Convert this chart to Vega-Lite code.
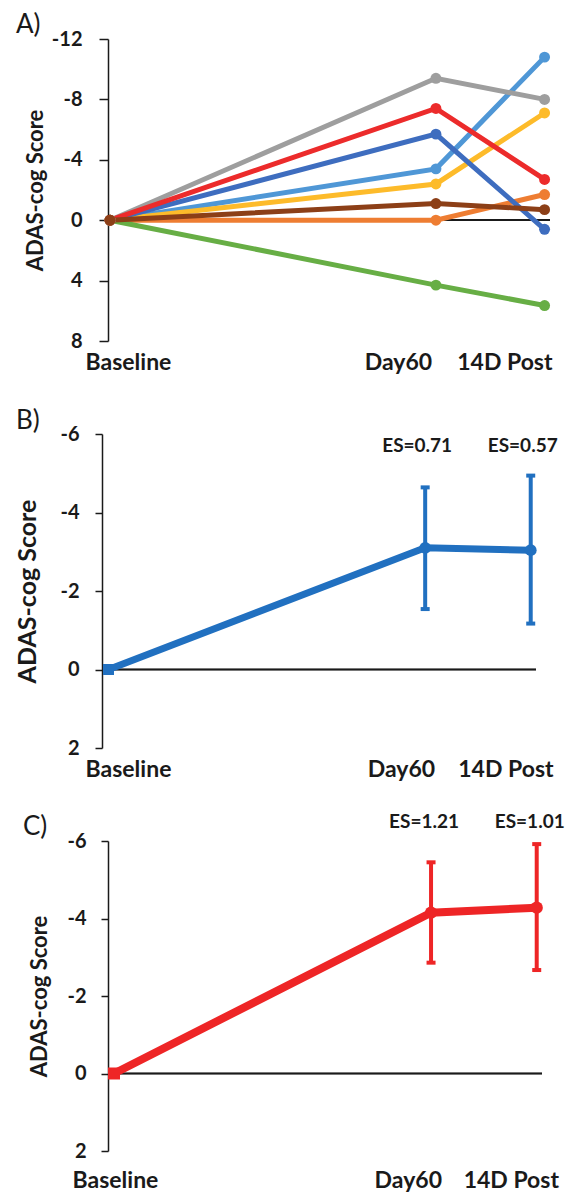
{
  "$schema": "https://vega.github.io/schema/vega-lite/v6.json",
  "background": "white",
  "padding": {"left": 15, "top": 12, "right": 5, "bottom": 5},
  "autosize": {"type": "pad"},
  "bounds": "flush",
  "spacing": 93,
  "config": {
    "view": {"stroke": null},
    "font": "Lato",
    "axis": {"grid": false, "domainColor": "#1a1a1a", "domainWidth": 1.5, "tickColor": "#1a1a1a", "tickWidth": 1.5, "labelFont": "Lato", "labelFontWeight": "bold", "labelColor": "#1a1a1a", "titleFont": "Lato", "titleFontWeight": "bold", "titleColor": "#1a1a1a", "labelFlush": false, "labelOverlap": false},
    "title": {"font": "Lato", "fontWeight": "normal", "fontSize": 26, "color": "#1a1a1a", "anchor": "start", "frame": "group"}
  },
  "datasets": {
    "individual": [
      {"id": "P1", "time": "Baseline", "day": 0, "score": 0},
      {"id": "P1", "time": "Day60", "day": 60, "score": -3.4},
      {"id": "P1", "time": "14D Post", "day": 80, "score": -10.8},
      {"id": "P2", "time": "Baseline", "day": 0, "score": 0},
      {"id": "P2", "time": "Day60", "day": 60, "score": 0},
      {"id": "P2", "time": "14D Post", "day": 80, "score": -1.7},
      {"id": "P3", "time": "Baseline", "day": 0, "score": 0},
      {"id": "P3", "time": "Day60", "day": 60, "score": -9.4},
      {"id": "P3", "time": "14D Post", "day": 80, "score": -8.0},
      {"id": "P4", "time": "Baseline", "day": 0, "score": 0},
      {"id": "P4", "time": "Day60", "day": 60, "score": -2.4},
      {"id": "P4", "time": "14D Post", "day": 80, "score": -7.1},
      {"id": "P5", "time": "Baseline", "day": 0, "score": 0},
      {"id": "P5", "time": "Day60", "day": 60, "score": -5.7},
      {"id": "P5", "time": "14D Post", "day": 80, "score": 0.6},
      {"id": "P6", "time": "Baseline", "day": 0, "score": 0},
      {"id": "P6", "time": "Day60", "day": 60, "score": 4.3},
      {"id": "P6", "time": "14D Post", "day": 80, "score": 5.65},
      {"id": "P7", "time": "Baseline", "day": 0, "score": 0},
      {"id": "P7", "time": "Day60", "day": 60, "score": -7.4},
      {"id": "P7", "time": "14D Post", "day": 80, "score": -2.7},
      {"id": "P8", "time": "Baseline", "day": 0, "score": 0},
      {"id": "P8", "time": "Day60", "day": 60, "score": -1.1},
      {"id": "P8", "time": "14D Post", "day": 80, "score": -0.7}
    ],
    "groupB": [
      {"time": "Baseline", "day": 0, "mean": 0, "lo": null, "hi": null, "es": null},
      {"time": "Day60", "day": 60, "mean": -3.1, "lo": -1.54, "hi": -4.64, "es": "ES=0.71"},
      {"time": "14D Post", "day": 80, "mean": -3.04, "lo": -1.17, "hi": -4.94, "es": "ES=0.57"}
    ],
    "groupC": [
      {"time": "Baseline", "day": 0, "mean": 0, "lo": null, "hi": null, "es": null},
      {"time": "Day60", "day": 60, "mean": -4.15, "lo": -2.86, "hi": -5.45, "es": "ES=1.21"},
      {"time": "14D Post", "day": 80, "mean": -4.28, "lo": -2.67, "hi": -5.92, "es": "ES=1.01"}
    ]
  },
  "vconcat": [
    {
      "width": 442, "height": 302,
      "title": {"text": "A)", "dx": -92, "dy": 13},
      "data": {"name": "individual"},
      "layer": [
        {"mark": {"type": "rule", "color": "#1a1a1a", "strokeWidth": 1.5},
         "encoding": {"y": {"datum": 0, "type": "quantitative", "scale": {"domain": [-12, 8], "reverse": true, "nice": false, "zero": false},
           "axis": {"title": "ADAS-cog Score", "values": [-12, -8, -4, 0, 4, 8], "labelExpr": "'' + datum.value", "tickSize": 9, "labelPadding": 17, "labelFontSize": 20, "titleFontSize": 22, "titlePadding": 4}}}},
        {"mark": {"type": "line", "strokeWidth": 5},
         "encoding": {
           "x": {"field": "day", "type": "quantitative", "scale": {"domain": [-0.37, 81], "nice": false, "zero": false},
             "axis": {"title": null, "values": [3.31, 53.0, 72.6], "labelExpr": "datum.value < 20 ? 'Baseline' : (datum.value < 65 ? 'Day60' : '14D Post')", "ticks": false, "domain": false, "labelPadding": 10, "labelFontSize": 23}},
           "y": {"field": "score", "type": "quantitative",
             "axis": {"title": "ADAS-cog Score", "values": [-12, -8, -4, 0, 4, 8], "labelExpr": "'' + datum.value", "tickSize": 9, "labelPadding": 17, "labelFontSize": 20, "titleFontSize": 22, "titlePadding": 4}},
           "color": {"field": "id", "type": "nominal", "legend": null,
             "scale": {"domain": ["P1", "P2", "P3", "P4", "P5", "P6", "P7", "P8"], "range": ["#4f97d6", "#ee7d32", "#9e9e9e", "#fdbb2a", "#3e6dbf", "#67ae45", "#ec2b2b", "#8c3f17"]}}
         }},
        {"mark": {"type": "circle", "size": 120, "opacity": 1},
         "encoding": {
           "x": {"field": "day", "type": "quantitative"},
           "y": {"field": "score", "type": "quantitative",
             "axis": {"title": "ADAS-cog Score", "values": [-12, -8, -4, 0, 4, 8], "labelExpr": "'' + datum.value", "tickSize": 9, "labelPadding": 17, "labelFontSize": 20, "titleFontSize": 22, "titlePadding": 4}},
           "color": {"field": "id", "type": "nominal", "legend": null}
         }}
      ]
    },
    {
      "width": 428, "height": 314,
      "title": {"text": "B)", "dx": -92, "dy": 14},
      "data": {"name": "groupB"},
      "encoding": {
        "x": {"field": "day", "type": "quantitative", "scale": {"domain": [-0.1, 81], "nice": false, "zero": false},
          "axis": {"title": null, "values": [3.69, 55.4, 75.2], "labelExpr": "datum.value < 20 ? 'Baseline' : (datum.value < 65 ? 'Day60' : '14D Post')", "ticks": false, "domain": false, "labelPadding": 10, "labelFontSize": 23}}
      },
      "layer": [
        {"mark": {"type": "rule", "color": "#1a1a1a", "strokeWidth": 1.5},
         "encoding": {"x": null, "y": {"datum": 0, "type": "quantitative", "scale": {"domain": [-6, 2], "reverse": true, "nice": false, "zero": false},
           "axis": {"title": "ADAS-cog Score", "values": [-6, -4, -2, 0, 2], "labelExpr": "'' + datum.value", "tickSize": 7, "labelPadding": 16, "offset": 6, "labelFontSize": 20, "titleFontSize": 25, "titlePadding": 19}}}},
        {"transform": [{"filter": "datum.hi != null"}],
         "mark": {"type": "rule", "color": "#2170c0", "strokeWidth": 4},
         "encoding": {"y": {"field": "hi", "type": "quantitative",
           "axis": {"title": "ADAS-cog Score", "values": [-6, -4, -2, 0, 2], "labelExpr": "'' + datum.value", "tickSize": 7, "labelPadding": 16, "offset": 6, "labelFontSize": 20, "titleFontSize": 25, "titlePadding": 19}},
           "y2": {"field": "lo"}}},
        {"transform": [{"filter": "datum.hi != null"}],
         "mark": {"type": "tick", "orient": "horizontal", "color": "#2170c0", "size": 9, "thickness": 4, "opacity": 1},
         "encoding": {"y": {"field": "hi", "type": "quantitative"}}},
        {"transform": [{"filter": "datum.hi != null"}],
         "mark": {"type": "tick", "orient": "horizontal", "color": "#2170c0", "size": 9, "thickness": 4, "opacity": 1},
         "encoding": {"y": {"field": "lo", "type": "quantitative"}}},
        {"mark": {"type": "line", "color": "#2170c0", "strokeWidth": 7},
         "encoding": {"y": {"field": "mean", "type": "quantitative"}}},
        {"transform": [{"filter": "datum.day == 0"}],
         "mark": {"type": "square", "color": "#2170c0", "size": 121, "opacity": 1},
         "encoding": {"y": {"field": "mean", "type": "quantitative"}}},
        {"transform": [{"filter": "datum.day > 0"}],
         "mark": {"type": "circle", "color": "#2170c0", "size": 140, "opacity": 1},
         "encoding": {"y": {"field": "mean", "type": "quantitative"}}},
        {"transform": [{"filter": "datum.es != null"}],
         "mark": {"type": "text", "font": "Lato", "fontWeight": "bold", "fontSize": 19, "color": "#1a1a1a", "dx": -8},
         "encoding": {"y": {"datum": -5.7, "type": "quantitative"}, "text": {"field": "es"}}}
      ]
    },
    {
      "width": 434, "height": 310,
      "title": {"text": "C)", "dx": -85, "dy": 31},
      "data": {"name": "groupC"},
      "encoding": {
        "x": {"field": "day", "type": "quantitative", "scale": {"domain": [-1.14, 81], "nice": false, "zero": false},
          "axis": {"title": null, "values": [0.18, 55.6, 75.1], "labelExpr": "datum.value < 20 ? 'Baseline' : (datum.value < 65 ? 'Day60' : '14D Post')", "ticks": false, "domain": false, "labelPadding": 18, "labelFontSize": 23}}
      },
      "layer": [
        {"mark": {"type": "rule", "color": "#1a1a1a", "strokeWidth": 1.5},
         "encoding": {"x": null, "y": {"datum": 0, "type": "quantitative", "scale": {"domain": [-6, 2], "reverse": true, "nice": false, "zero": false},
           "axis": {"title": "ADAS-cog Score", "values": [-6, -4, -2, 0, 2], "labelExpr": "'' + datum.value", "tickSize": 7, "labelPadding": 15, "labelFontSize": 20, "titleFontSize": 22, "titlePadding": 15}}}},
        {"transform": [{"filter": "datum.hi != null"}],
         "mark": {"type": "rule", "color": "#ee2526", "strokeWidth": 4},
         "encoding": {"y": {"field": "hi", "type": "quantitative",
           "axis": {"title": "ADAS-cog Score", "values": [-6, -4, -2, 0, 2], "labelExpr": "'' + datum.value", "tickSize": 7, "labelPadding": 15, "labelFontSize": 20, "titleFontSize": 22, "titlePadding": 15}},
           "y2": {"field": "lo"}}},
        {"transform": [{"filter": "datum.hi != null"}],
         "mark": {"type": "tick", "orient": "horizontal", "color": "#ee2526", "size": 9, "thickness": 4, "opacity": 1},
         "encoding": {"y": {"field": "hi", "type": "quantitative"}}},
        {"transform": [{"filter": "datum.hi != null"}],
         "mark": {"type": "tick", "orient": "horizontal", "color": "#ee2526", "size": 9, "thickness": 4, "opacity": 1},
         "encoding": {"y": {"field": "lo", "type": "quantitative"}}},
        {"mark": {"type": "line", "color": "#ee2526", "strokeWidth": 8},
         "encoding": {"y": {"field": "mean", "type": "quantitative"}}},
        {"transform": [{"filter": "datum.day == 0"}],
         "mark": {"type": "square", "color": "#ee2526", "size": 144, "opacity": 1},
         "encoding": {"y": {"field": "mean", "type": "quantitative"}}},
        {"transform": [{"filter": "datum.day > 0"}],
         "mark": {"type": "circle", "color": "#ee2526", "size": 150, "opacity": 1},
         "encoding": {"y": {"field": "mean", "type": "quantitative"}}},
        {"transform": [{"filter": "datum.es != null"}],
         "mark": {"type": "text", "font": "Lato", "fontWeight": "bold", "fontSize": 19, "color": "#1a1a1a", "dx": -7},
         "encoding": {"y": {"datum": -6.48, "type": "quantitative"}, "text": {"field": "es"}}}
      ]
    }
  ]
}
